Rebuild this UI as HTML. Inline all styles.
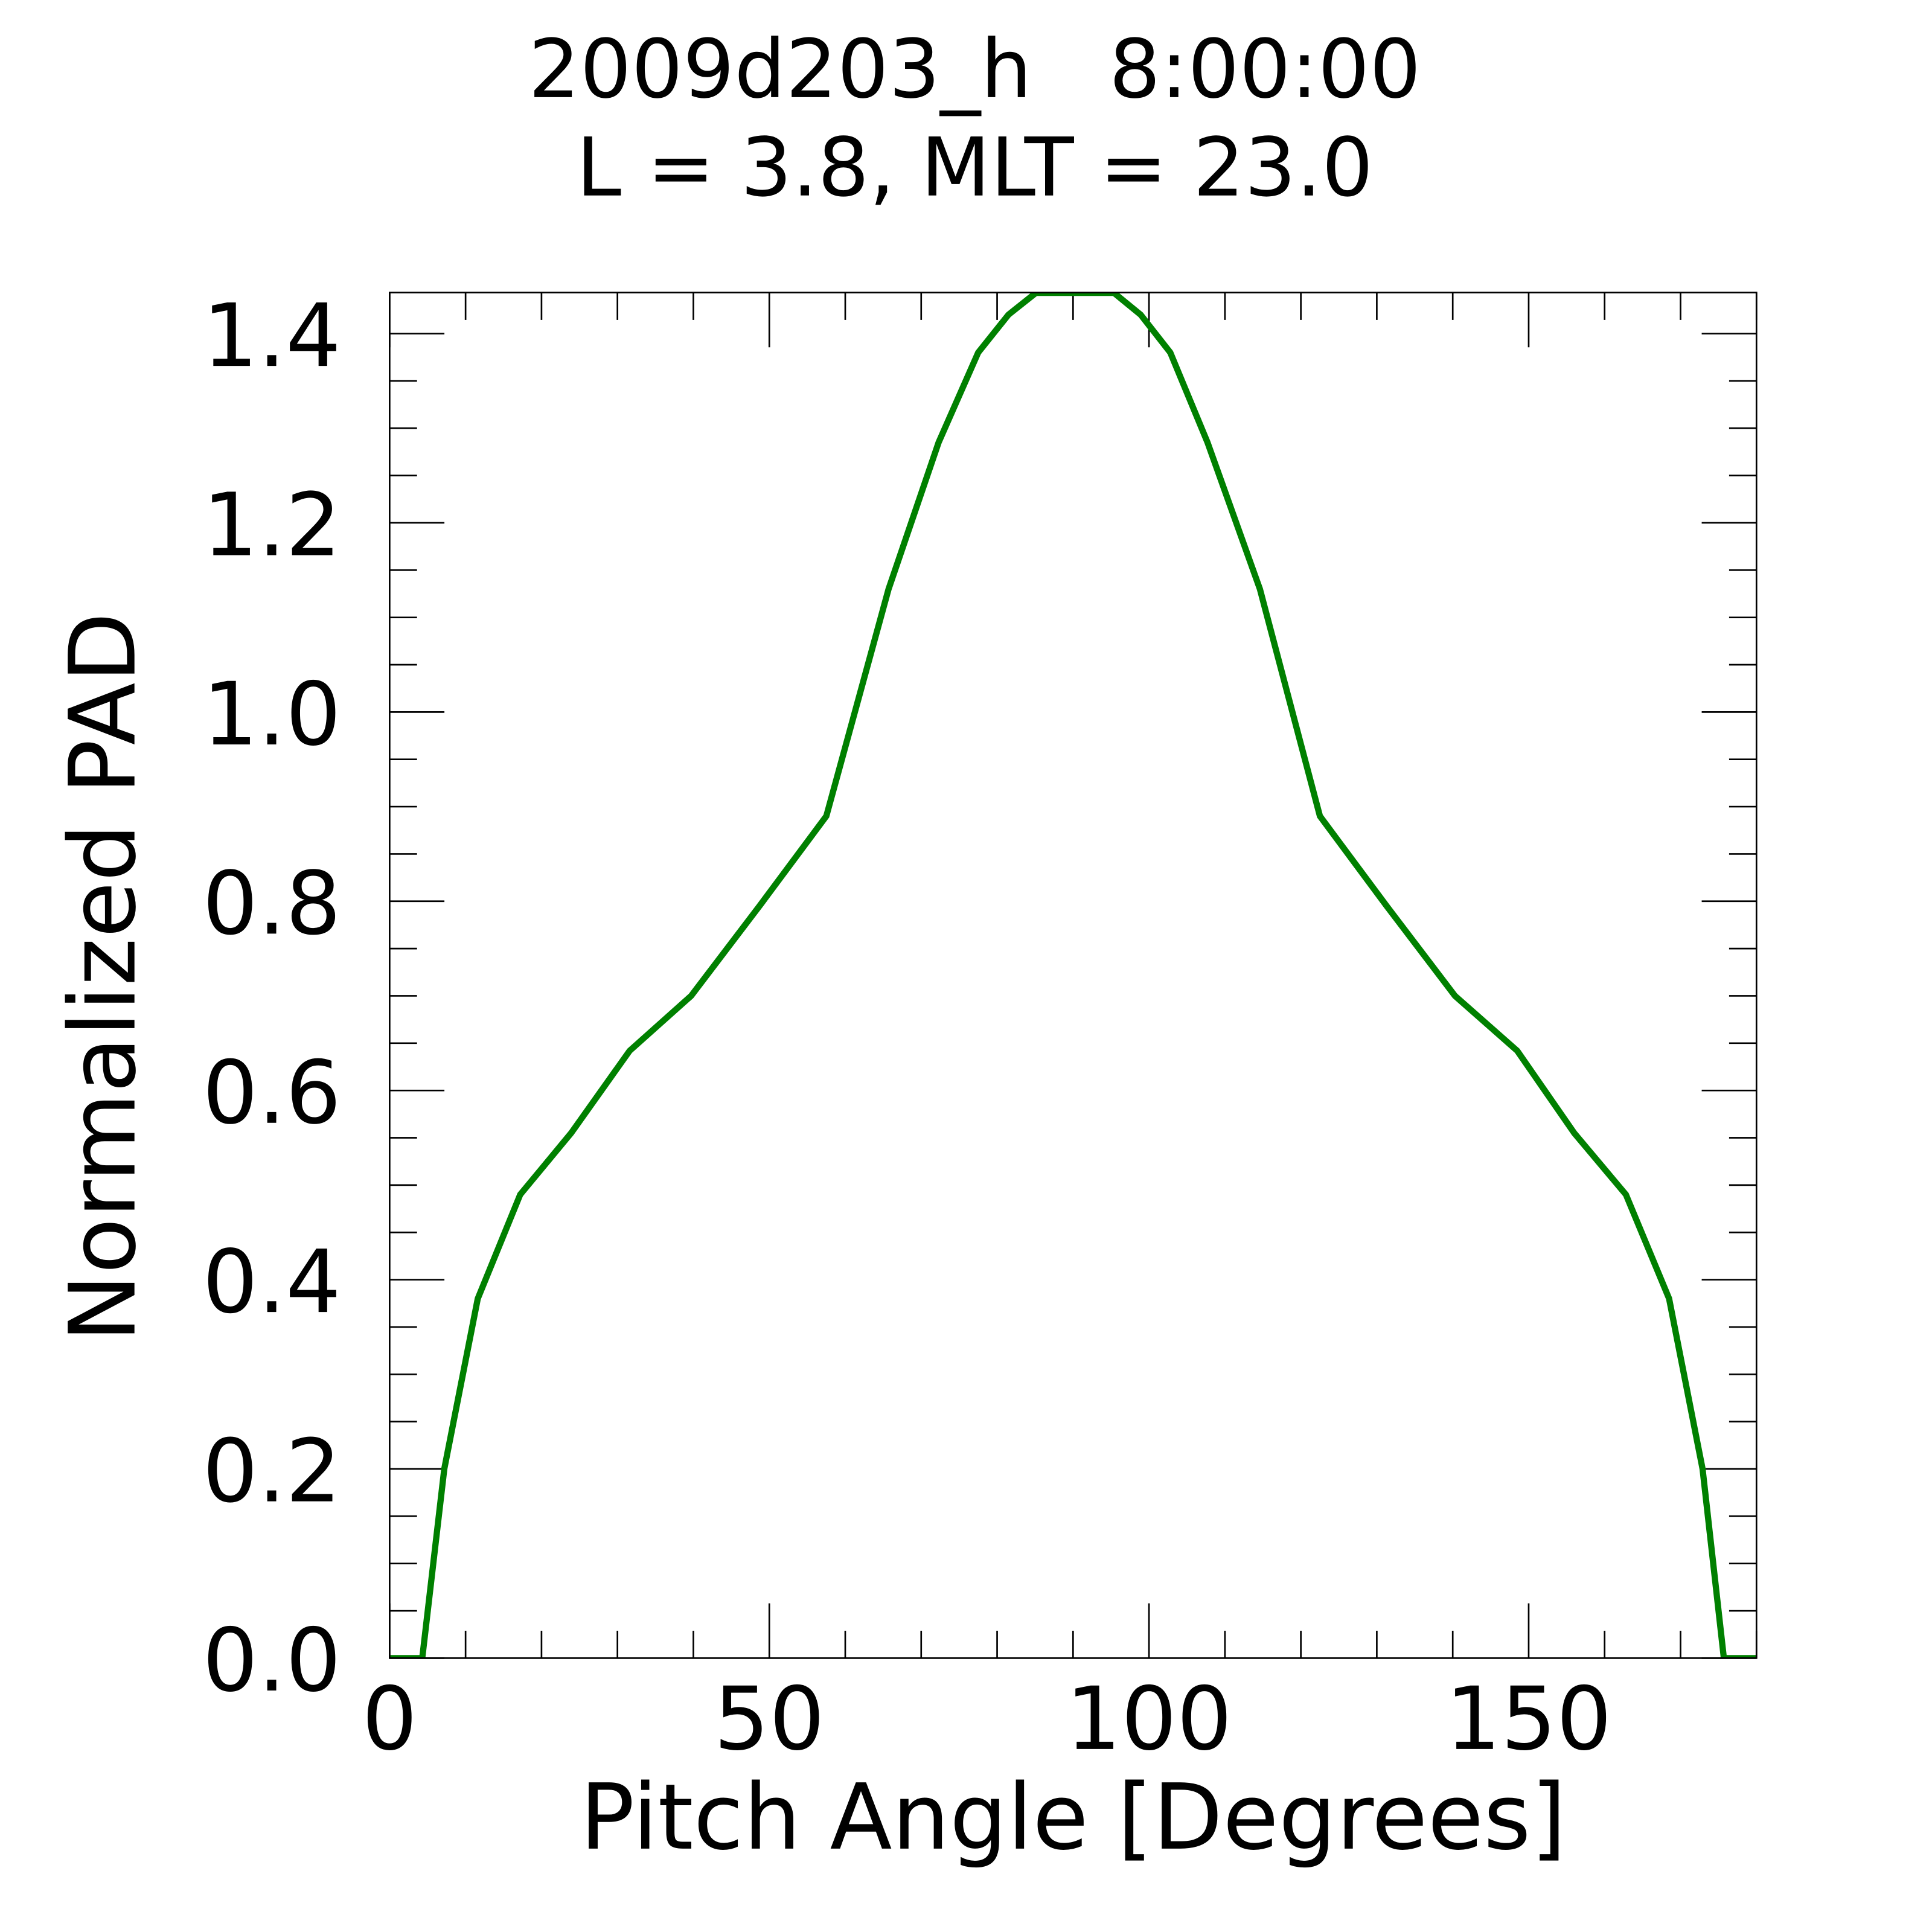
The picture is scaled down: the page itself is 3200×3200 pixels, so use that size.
<!DOCTYPE html>
<html><head><meta charset="utf-8"><style>
html,body{margin:0;padding:0;background:#fff;}
svg{display:block;}
text{font-family:"DejaVu Sans","Liberation Sans",sans-serif;fill:#000;}
</style></head><body>
<svg id="chart" width="3200" height="3200" viewBox="0 0 1552 1552" xmlns="http://www.w3.org/2000/svg">
<rect width="1552" height="1552" fill="#fff"/>
<text x="783" y="78" font-size="65" text-anchor="middle" xml:space="preserve">2009d203_h   8:00:00</text>
<text x="783" y="157" font-size="65" text-anchor="middle">L = 3.8, MLT = 23.0</text>
<defs><clipPath id="clip"><rect x="313" y="235" width="1098" height="1097"/></clipPath></defs>
<g id="ticks"></g>
<g id="labels"></g>
<path id="series" fill="none" stroke="#008000" stroke-width="5" stroke-linejoin="miter" clip-path="url(#clip)"/>
<rect x="313" y="235" width="1098" height="1097" fill="none" stroke="#000" stroke-width="1.3"/>
<text x="862" y="1485" font-size="73" text-anchor="middle">Pitch Angle [Degrees]</text>
<text transform="translate(108,785) rotate(-90)" font-size="73.5" text-anchor="middle">Normalized PAD</text>
</svg>
<script>
const pitchAngles=[0,4.3,7.2,11.6,17.2,23.9,31.6,39.7,48.7,57.5,65.7,72.3,77.5,81.5,85.1,95.4,98.9,102.8,107.7,114.6,122.5,131.3,140.3,148.5,156,162.8,168.5,172.9,175.7,180];
const padValues=[0,0,0.2,0.38,0.49,0.555,0.642,0.70,0.795,0.89,1.13,1.285,1.38,1.42,1.443,1.443,1.42,1.38,1.285,1.13,0.89,0.795,0.70,0.642,0.555,0.49,0.38,0.2,0,0];
const xTickLabels=[0,50,100,150];
const yTickLabels=["0.0","0.2","0.4","0.6","0.8","1.0","1.2","1.4"];
const X0=313,X1=1411,Y0=1332,Y1=235,XMAX=180,YMAX=1.4434;
function sx(v){return X0+(X1-X0)*v/XMAX;}
function sy(v){return Y0-(Y0-Y1)*v/YMAX;}
const NS="http://www.w3.org/2000/svg";
const tg=document.getElementById('ticks'),lg=document.getElementById('labels');
function line(x1,y1,x2,y2,name){const l=document.createElementNS(NS,'line');l.setAttribute('x1',x1);l.setAttribute('y1',y1);l.setAttribute('x2',x2);l.setAttribute('y2',y2);l.setAttribute('stroke','#000');l.setAttribute('stroke-width','1.3');


tg.appendChild(l);}
for(let d=0;d<=180;d+=10){const x=sx(d),len=d%50===0?44:22;line(x,Y0,x,Y0-len,'x-tick');line(x,Y1,x,Y1+len,'x-tick-top');}
for(let i=0;i<=28;i++){const v=i*0.05,y=sy(v),len=i%4===0?44:22;line(X0,y,X0+len,y,'y-tick');line(X1,y,X1-len,y,'y-tick-right');}
xTickLabels.forEach(v=>{const t=document.createElementNS(NS,'text');t.setAttribute('x',sx(v));t.setAttribute('y',1405);t.setAttribute('font-size','70');t.setAttribute('text-anchor','middle');t.textContent=v;


lg.appendChild(t);});
yTickLabels.forEach(s=>{const t=document.createElementNS(NS,'text');t.setAttribute('x',274);t.setAttribute('y',sy(parseFloat(s))+26);t.setAttribute('font-size','70');t.setAttribute('text-anchor','end');t.textContent=s;


lg.appendChild(t);});
document.getElementById('series').setAttribute('d',pitchAngles.map((a,i)=>(i?'L':'M')+sx(a).toFixed(1)+' '+sy(padValues[i]).toFixed(1)).join(' '));
</script>
</body></html>
